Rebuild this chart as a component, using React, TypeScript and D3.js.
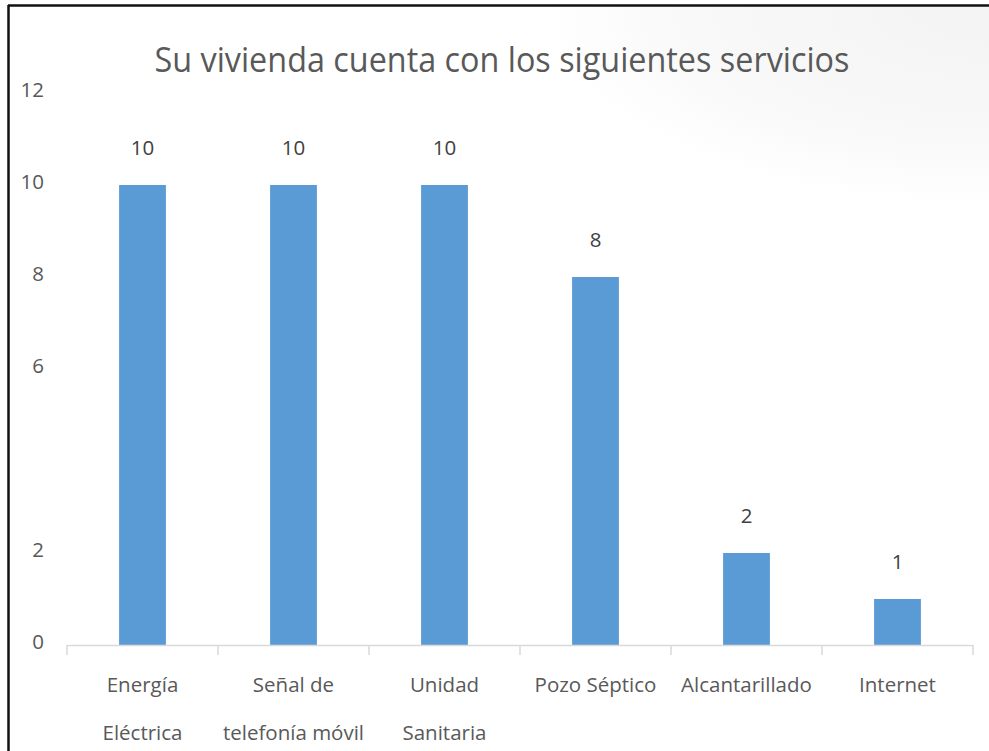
import React from "react";
import * as d3 from "d3";

const categories: string[][] = [
  ["Energía", "Eléctrica"],
  ["Señal de", "telefonía móvil"],
  ["Unidad", "Sanitaria"],
  ["Pozo Séptico"],
  ["Alcantarillado"],
  ["Internet"],
];
const values: number[] = [10, 10, 10, 8, 2, 1];
const yTickLabels: number[] = [0, 2, 6, 8, 10, 12];
const title = "Su vivienda cuenta con los siguientes servicios";

const W = 989;
const H = 751;
const FONT = "'Open Sans', 'Noto Sans', sans-serif";
const TEXT = "#595959";
const FS = 20.5;

export default function App() {
  const keys = categories.map((c) => c.join(" "));
  const x = d3
    .scaleBand<string>()
    .domain(keys)
    .range([67, 973])
    .paddingInner(0.69)
    .paddingOuter(0.345);
  const y = d3.scaleLinear().domain([0, 12]).range([645, 93]);
  const step = x.step();
  const x0 = 67;
  const boundaries = d3.range(keys.length + 1).map((i) => x0 + i * step);

  return (
    <svg
      width={W}
      height={H}
      style={{ position: "fixed", left: 0, top: 0, background: "#fff" }}
      fontFamily={FONT}
    >
      <defs>
        <radialGradient id="bg" cx="1" cy="0" r="0.8" fx="1" fy="0">
          <stop offset="0" stopColor="#f3f3f3" />
          <stop offset="0.7" stopColor="#f9f9f9" />
          <stop offset="1" stopColor="#ffffff" />
        </radialGradient>
      </defs>
      <rect x={0} y={0} width={W} height={H} fill="#fff" />
      <rect x={430} y={6} width={W - 430} height={250} fill="url(#bg)" />

      {/* border */}
      <line x1={8.5} y1={5} x2={8.5} y2={H} stroke="#111" strokeWidth={2.5} />
      <line x1={8} y1={5.5} x2={W} y2={5.5} stroke="#111" strokeWidth={2.5} />

      {/* title */}
      <text
        x={502}
        y={72}
        textAnchor="middle"
        fontSize={34}
        fill={TEXT}
        textLength={695}
        lengthAdjust="spacingAndGlyphs"
      >
        {title}
      </text>

      {/* y tick labels */}
      {yTickLabels.map((t) => (
        <text
          key={t}
          x={44}
          y={y(t) + 4}
          textAnchor="end"
          fontSize={FS}
          fill={TEXT}
        >
          {t}
        </text>
      ))}

      {/* bars */}
      {values.map((v, i) => (
        <rect
          key={keys[i]}
          x={x(keys[i])}
          y={y(v)}
          width={x.bandwidth()}
          height={y(0) - y(v)}
          fill="#5B9BD5"
        />
      ))}

      {/* value labels */}
      {values.map((v, i) => (
        <text
          key={"v" + i}
          x={(x(keys[i]) as number) + x.bandwidth() / 2}
          y={y(v) - 30}
          textAnchor="middle"
          fontSize={FS}
          fill="#404040"
        >
          {v}
        </text>
      ))}

      {/* x axis */}
      <line
        x1={x0}
        x2={x0 + keys.length * step}
        y1={645.5}
        y2={645.5}
        stroke="#d9d9d9"
        strokeWidth={1.5}
      />
      {boundaries.map((b, i) => (
        <line
          key={"t" + i}
          x1={b}
          x2={b}
          y1={645}
          y2={655}
          stroke="#d9d9d9"
          strokeWidth={1.5}
        />
      ))}

      {/* category labels */}
      {categories.map((lines, i) => (
        <text
          key={"c" + i}
          textAnchor="middle"
          fontSize={FS}
          fill={TEXT}
        >
          {lines.map((ln, j) => (
            <tspan
              key={j}
              x={(x(keys[i]) as number) + x.bandwidth() / 2}
              y={692 + j * 48}
            >
              {ln}
            </tspan>
          ))}
        </text>
      ))}
    </svg>
  );
}
